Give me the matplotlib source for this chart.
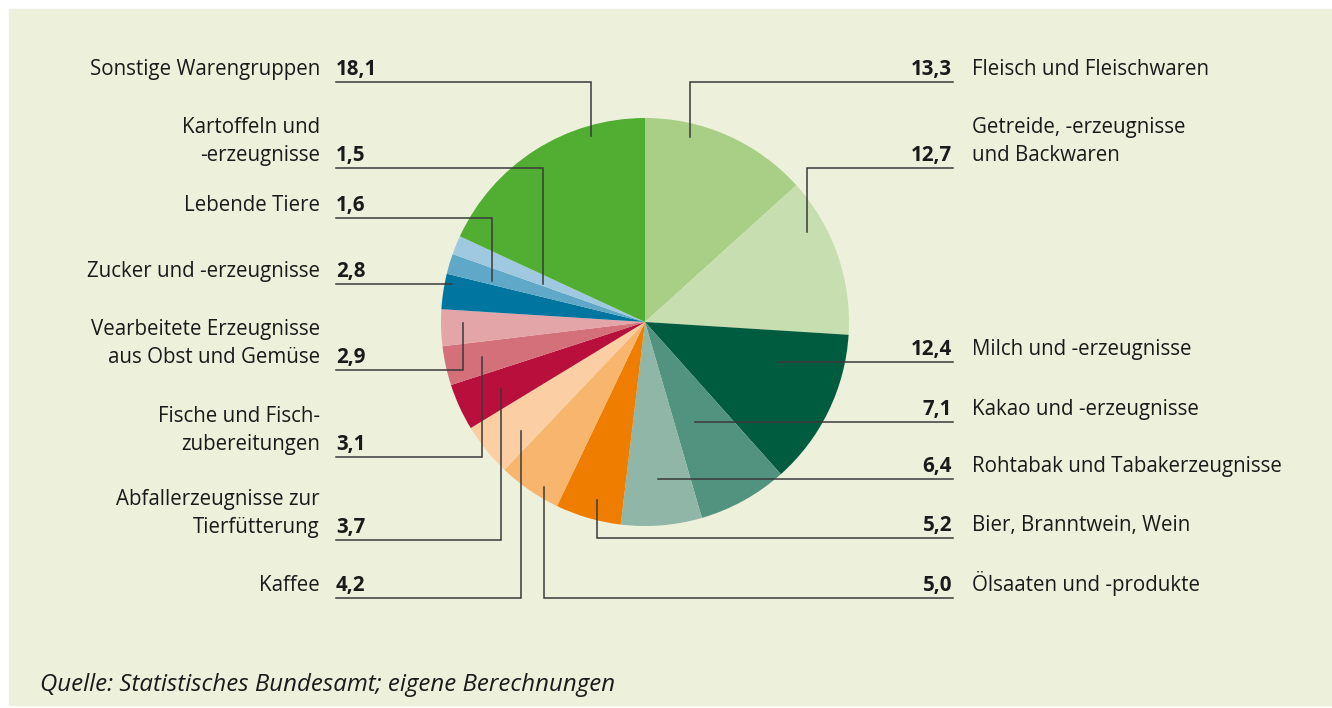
import matplotlib
matplotlib.use("Agg")
import matplotlib.pyplot as plt
from matplotlib.patches import Rectangle

plt.rcParams['font.family'] = ['Open Sans', 'DejaVu Sans']

# shares in percent, clockwise from 12 o'clock
labels = [
    "Fleisch und Fleischwaren",
    "Getreide, -erzeugnisse\nund Backwaren",
    "Milch und -erzeugnisse",
    "Kakao und -erzeugnisse",
    "Rohtabak und Tabakerzeugnisse",
    "Bier, Branntwein, Wein",
    "Ölsaaten und -produkte",
    "Kaffee",
    "Abfallerzeugnisse zur\nTierfütterung",
    "Fische und Fisch-\nzubereitungen",
    "Vearbeitete Erzeugnisse\naus Obst und Gemüse",
    "Zucker und -erzeugnisse",
    "Lebende Tiere",
    "Kartoffeln und\n-erzeugnisse",
    "Sonstige Warengruppen",
]
values = [13.3, 12.7, 12.4, 7.1, 6.4, 5.2, 5.0, 4.2, 3.7, 3.1, 2.9, 2.8, 1.6, 1.5, 18.1]
colors = ["#a9cf87", "#c7dfb0", "#005c3f", "#52937f", "#8fb6a7", "#ef7d00",
          "#f7b56e", "#fbcfa3", "#b80f3c", "#d4707a", "#e3a5a8", "#0075a0",
          "#5fa8c8", "#9fc9e0", "#52ad33"]
sides = ["R"] * 7 + ["L"] * 8

# layout (pixel coords): leader anchor inside the slice and label row
anchors = [(690, 137), (807, 232), (778, 362), (695, 422), (658, 479), (597, 500),
           (544, 487), (521, 431), (501, 389), (482, 357), (463, 323), (452, 284),
           (492, 281), (543, 284), (591, 136)]
rows = [82, 168, 362, 422, 479, 538, 598, 598, 540, 457, 370, 284, 218, 168, 82]

W, H = 1332, 708
cx, cy, rad = 645, 322, 204
right_x, left_x = 953, 336
bg = "#edf1dc"
ink = "#1a1a1a"
line_c = "#3a3a3a"
fs = 14.8

fig = plt.figure(figsize=(W / 100, H / 100), dpi=100, facecolor="white")
ax = fig.add_axes([0, 0, 1, 1])
ax.add_patch(Rectangle((9, 9), W - 9, H - 12, color=bg, zorder=0))

ax.pie(values, colors=colors, startangle=-90, counterclock=True,
       center=(cx, cy), radius=rad, wedgeprops=dict(linewidth=0, zorder=1))

for lab, val, side, (axx, ayy), ry in zip(labels, values, sides, anchors, rows):
    end_x = right_x if side == "R" else left_x
    ax.plot([axx, axx, end_x], [ayy, ry, ry], color=line_c, lw=1.1,
            solid_joinstyle="miter", zorder=3)
    num = f"{val:.1f}".replace(".", ",")
    base = ry - 7
    if side == "R":
        ax.text(end_x - 1, base, num, ha="right", va="baseline", fontsize=fs,
                fontweight="bold", color=ink)
        # name bottom line sits on the number's baseline
        ax.text(972, base, lab, ha="left", va="baseline", fontsize=fs,
                color=ink, linespacing=1.45)
    else:
        ax.text(end_x, base, num, ha="left", va="baseline", fontsize=fs,
                fontweight="bold", color=ink)
        ax.text(320, base, lab, ha="right", va="baseline", fontsize=fs,
                color=ink, multialignment="right", linespacing=1.45)

ax.text(40, 691, "Quelle: Statistisches Bundesamt; eigene Berechnungen",
        ha="left", va="baseline", fontsize=17.3, style="italic", color=ink)

ax.set_xlim(0, W)
ax.set_ylim(H, 0)
ax.set_aspect("auto")
ax.axis("off")

fig.savefig("out.png", dpi=100, facecolor="white")
